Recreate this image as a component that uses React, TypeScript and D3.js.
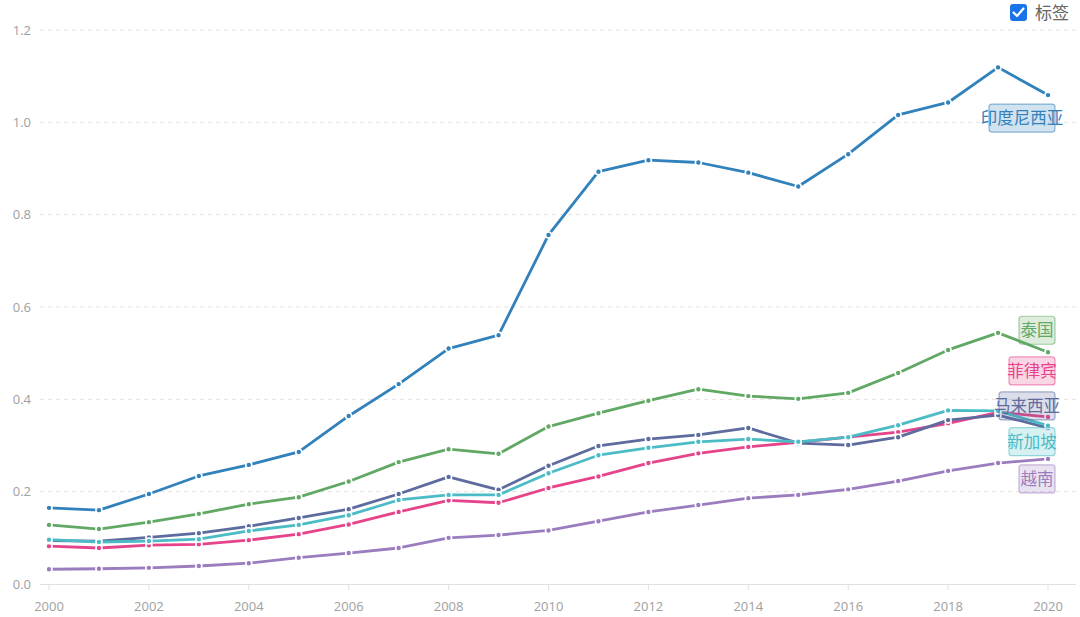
import React from 'react';
import * as d3 from 'd3';

const years = [2000, 2001, 2002, 2003, 2004, 2005, 2006, 2007, 2008, 2009, 2010, 2011, 2012, 2013, 2014, 2015, 2016, 2017, 2018, 2019, 2020];

const indonesia = [0.165, 0.160, 0.195, 0.234, 0.258, 0.286, 0.364, 0.433, 0.510, 0.539, 0.756, 0.893, 0.918, 0.913, 0.891, 0.861, 0.931, 1.016, 1.043, 1.119, 1.059];
const thailand = [0.128, 0.119, 0.134, 0.152, 0.173, 0.188, 0.222, 0.264, 0.292, 0.282, 0.341, 0.370, 0.397, 0.422, 0.407, 0.401, 0.414, 0.457, 0.507, 0.544, 0.502];
const philippines = [0.082, 0.078, 0.084, 0.086, 0.095, 0.108, 0.129, 0.156, 0.181, 0.176, 0.208, 0.233, 0.262, 0.283, 0.297, 0.307, 0.318, 0.329, 0.348, 0.372, 0.362];
const malaysia = [0.094, 0.093, 0.101, 0.110, 0.125, 0.143, 0.162, 0.195, 0.232, 0.204, 0.256, 0.299, 0.314, 0.323, 0.338, 0.305, 0.301, 0.318, 0.355, 0.366, 0.338];
const singapore = [0.096, 0.091, 0.093, 0.097, 0.115, 0.128, 0.149, 0.182, 0.193, 0.193, 0.240, 0.279, 0.295, 0.308, 0.314, 0.308, 0.318, 0.344, 0.376, 0.375, 0.343];
const vietnam = [0.032, 0.033, 0.035, 0.039, 0.045, 0.057, 0.067, 0.078, 0.100, 0.106, 0.116, 0.136, 0.156, 0.171, 0.186, 0.193, 0.205, 0.223, 0.245, 0.262, 0.271];

const yTicks = [0, 0.2, 0.4, 0.6, 0.8, 1.0, 1.2];
const xTicks = [2000, 2002, 2004, 2006, 2008, 2010, 2012, 2014, 2016, 2018, 2020];

// dy = how far the end label is pushed from the last point (labels spread out so they don't overlap)
const series = [
  { name: '印度尼西亚', values: indonesia, color: '#3181bb', dy: 23 },
  { name: '泰国', values: thailand, color: '#62a865', dy: -22 },
  { name: '菲律宾', values: philippines, color: '#e6448a', dy: -46 },
  { name: '马来西亚', values: malaysia, color: '#5d6b9e', dy: -22 },
  { name: '新加坡', values: singapore, color: '#4bbcc6', dy: 16 },
  { name: '越南', values: vietnam, color: '#9b7dbf', dy: 20 },
];

const W = 1080;
const H = 617;
const numFont = '"Open Sans", "Noto Sans", sans-serif';
const cjkFont = '"Noto Sans CJK SC", "Noto Sans", sans-serif';

export default function App() {
  const x = d3.scaleLinear().domain([2000, 2020]).range([49, 1048]);
  const y = d3.scaleLinear().domain([0, 1.2]).range([584, 30]);
  const line = d3.line<number>()
    .x((_, i) => x(years[i]))
    .y(d => y(d));

  const labelRight = 1055;

  return (
    <svg width={W} height={H} style={{ position: 'absolute', left: 0, top: 0, background: '#fff' }}>
      {/* grid + y labels */}
      {yTicks.map(t => (
        <g key={t}>
          {t > 0 && (
            <line x1={40} x2={1076} y1={y(t)} y2={y(t)} stroke="#e3e3e3" strokeWidth={1} strokeDasharray="4,4" />
          )}
          <text x={31} y={y(t) + 4.5} textAnchor="end" fontSize={13} fill="#a0a0a0" fontFamily={numFont}>
            {t.toFixed(1)}
          </text>
        </g>
      ))}

      {/* x axis */}
      <line x1={40} x2={1076} y1={y(0) + 0.5} y2={y(0) + 0.5} stroke="#e0e0e0" strokeWidth={1} />
      {xTicks.map(t => (
        <g key={t}>
          <line x1={x(t)} x2={x(t)} y1={y(0) + 1} y2={y(0) + 6} stroke="#e0e0e0" />
          <text x={x(t)} y={611} textAnchor="middle" fontSize={13} fill="#a0a0a0" fontFamily={numFont}>
            {t}
          </text>
        </g>
      ))}

      {/* lines */}
      {series.map(s => (
        <g key={s.name}>
          <path d={line(s.values) || ''} fill="none" stroke={s.color} strokeWidth={2.8} strokeLinejoin="round" />
          {s.values.map((v, i) => (
            <circle key={i} cx={x(years[i])} cy={y(v)} r={3} fill={s.color} stroke="#fff" strokeWidth={1.6} />
          ))}
        </g>
      ))}

      {/* end labels */}
      {series.map(s => {
        const n = s.name.length;
        const bw = 10 * n + 16;
        const cy = y(s.values[s.values.length - 1]) + s.dy;
        return (
          <g key={s.name + '-label'}>
            <rect
              x={labelRight - bw}
              y={cy - 14}
              width={bw}
              height={28}
              rx={3}
              fill={s.color}
              fillOpacity={0.22}
              stroke={s.color}
              strokeOpacity={0.55}
              strokeWidth={1.2}
            />
            <text
              x={labelRight - bw / 2}
              y={cy + 6}
              textAnchor="middle"
              fontSize={16.5}
              fill={s.color}
              fontFamily={cjkFont}
            >
              {s.name}
            </text>
          </g>
        );
      })}

      {/* label toggle */}
      <g>
        <rect x={1010} y={4} width={17} height={17} rx={3} fill="#1a73e8" />
        <path d="M1013.5 12.5 L1017 16 L1023.5 8.5" fill="none" stroke="#fff" strokeWidth={2.2} strokeLinecap="round" strokeLinejoin="round" />
        <text x={1035} y={19} fontSize={17} fill="#666" fontFamily={cjkFont}>标签</text>
      </g>
    </svg>
  );
}
